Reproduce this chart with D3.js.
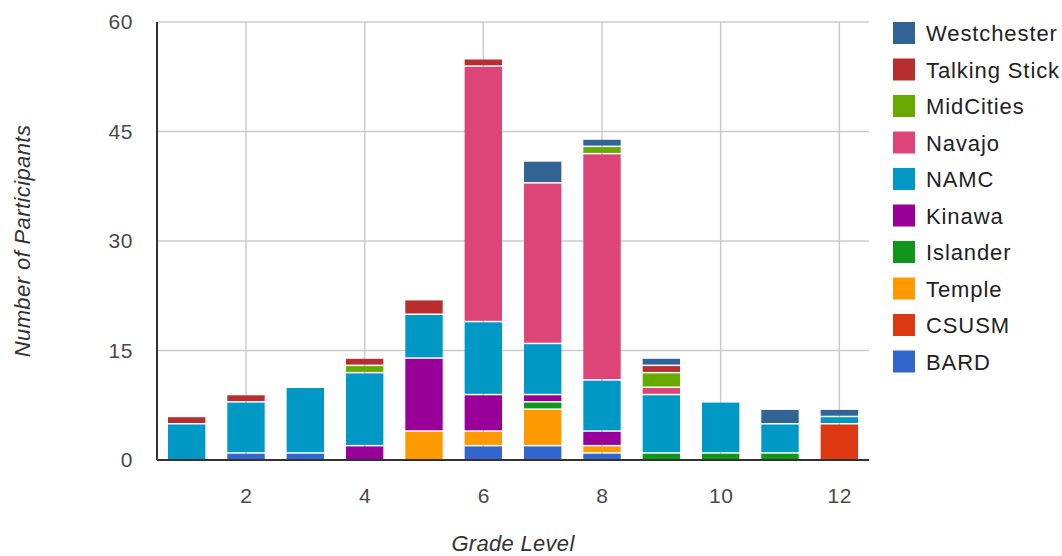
<!DOCTYPE html>
<html>
<head>
<meta charset="utf-8">
<script src="https://cdn.jsdelivr.net/npm/d3@7"></script>
<style>
  html, body { margin: 0; padding: 0; background: #fff; }
  svg { display: block; font-family: "Liberation Sans", Arial, sans-serif; }
</style>
</head>
<body>
<svg id="chart" width="1062" height="556"></svg>
<script>
// Participants per grade level, by program
const grades = [1, 2, 3, 4, 5, 6, 7, 8, 9, 10, 11, 12];
const BARD         = [0, 1, 1, 0, 0, 2, 2, 1, 0, 0, 0, 0];
const CSUSM        = [0, 0, 0, 0, 0, 0, 0, 0, 0, 0, 0, 5];
const Temple       = [0, 0, 0, 0, 4, 2, 5, 1, 0, 0, 0, 0];
const Islander     = [0, 0, 0, 0, 0, 0, 1, 0, 1, 1, 1, 0];
const Kinawa       = [0, 0, 0, 2, 10, 5, 1, 2, 0, 0, 0, 0];
const NAMC         = [5, 7, 9, 10, 6, 10, 7, 7, 8, 7, 4, 1];
const Navajo       = [0, 0, 0, 0, 0, 35, 22, 31, 1, 0, 0, 0];
const MidCities    = [0, 0, 0, 1, 0, 0, 0, 1, 2, 0, 0, 0];
const TalkingStick = [1, 1, 0, 1, 2, 1, 0, 0, 1, 0, 0, 0];
const Westchester  = [0, 0, 0, 0, 0, 0, 3, 1, 1, 0, 2, 1];

const seriesNames = ["BARD", "CSUSM", "Temple", "Islander", "Kinawa", "NAMC", "Navajo", "MidCities", "Talking Stick", "Westchester"];
const seriesValues = [BARD, CSUSM, Temple, Islander, Kinawa, NAMC, Navajo, MidCities, TalkingStick, Westchester];
const seriesColors = ["#3366cc", "#dc3912", "#ff9900", "#109618", "#990099", "#0099c6", "#dd4477", "#66aa00", "#b82e2e", "#316395"];

const yTicks = [0, 15, 30, 45, 60];
const xTicks = [2, 4, 6, 8, 10, 12];

const svg = d3.select("#chart");
const plot = { left: 157, right: 869, top: 22, bottom: 460 };

const x = d3.scaleLinear().domain([0.5, 12.5]).range([plot.left, plot.right]);
const y = d3.scaleLinear().domain([0, 60]).range([plot.bottom, plot.top]);

// rows for the stack
const rows = grades.map((g, i) => {
  const r = { grade: g };
  seriesNames.forEach((name, s) => { r[name] = seriesValues[s][i]; });
  return r;
});
const stacked = d3.stack().keys(seriesNames)(rows);

// gridlines
const grid = svg.append("g");
grid.selectAll("line.h").data(yTicks.filter(d => d > 0)).join("line")
  .attr("x1", plot.left).attr("x2", plot.right)
  .attr("y1", d => y(d)).attr("y2", d => y(d))
  .attr("stroke", "#cccccc").attr("stroke-width", 1.5);
grid.selectAll("line.v").data(xTicks).join("line")
  .attr("x1", d => x(d)).attr("x2", d => x(d))
  .attr("y1", plot.top).attr("y2", plot.bottom)
  .attr("stroke", "#cccccc").attr("stroke-width", 1.5);

// bars
const barW = (x(1) - x(0)) * 0.63;
const layers = svg.append("g").selectAll("g").data(stacked).join("g")
  .attr("fill", (d, i) => seriesColors[i]);
layers.selectAll("rect").data(d => d.filter(p => p[1] - p[0] > 0)).join("rect")
  .attr("x", d => x(d.data.grade) - barW / 2)
  .attr("width", barW)
  .attr("y", d => y(d[1]) + 1)
  .attr("height", d => Math.max(0, y(d[0]) - y(d[1]) - 1.5));

// axes lines
svg.append("line")
  .attr("x1", plot.left).attr("x2", plot.right)
  .attr("y1", plot.bottom).attr("y2", plot.bottom)
  .attr("stroke", "#333").attr("stroke-width", 2);
svg.append("line")
  .attr("x1", plot.left).attr("x2", plot.left)
  .attr("y1", plot.top).attr("y2", plot.bottom)
  .attr("stroke", "#333").attr("stroke-width", 2);

// tick labels
const yAxis = d3.axisLeft(y).tickValues(yTicks).tickSize(0).tickPadding(24);
const gy = svg.append("g").attr("transform", `translate(${plot.left},0)`).call(yAxis);
const xAxis = d3.axisBottom(x).tickValues(xTicks).tickSize(0).tickPadding(28);
const gx = svg.append("g").attr("transform", `translate(0,${plot.bottom})`).call(xAxis);
[gy, gx].forEach(g => {
  g.select(".domain").remove();
  g.selectAll("text")
    .attr("fill", "#4a4a4a")
    .style("font-size", "21px")
    .style("letter-spacing", "0.6px")
    .style("font-family", "'Liberation Sans', Arial, sans-serif");
});

// axis titles
svg.append("text")
  .attr("x", (plot.left + plot.right) / 2).attr("y", 551)
  .attr("text-anchor", "middle")
  .attr("fill", "#333").style("font-size", "22px").style("font-style", "italic")
  .style("letter-spacing", "0.3px")
  .text("Grade Level");
svg.append("text")
  .attr("transform", `translate(30,${(plot.top + plot.bottom) / 2}) rotate(-90)`)
  .attr("text-anchor", "middle")
  .attr("fill", "#333").style("font-size", "22px").style("font-style", "italic")
  .style("letter-spacing", "0.4px")
  .text("Number of Participants");

// legend, top-down from Westchester to BARD
const legendOrder = seriesNames.map((n, i) => ({ name: n, color: seriesColors[i] })).reverse();
const legend = svg.append("g").selectAll("g").data(legendOrder).join("g")
  .attr("transform", (d, i) => `translate(893,${22 + i * 36.5})`);
legend.append("rect").attr("width", 22).attr("height", 22).attr("fill", d => d.color);
legend.append("text")
  .attr("x", 33).attr("y", 19)
  .attr("fill", "#222").style("font-size", "22px")
  .style("letter-spacing", "0.9px")
  .text(d => d.name);
</script>
</body>
</html>
